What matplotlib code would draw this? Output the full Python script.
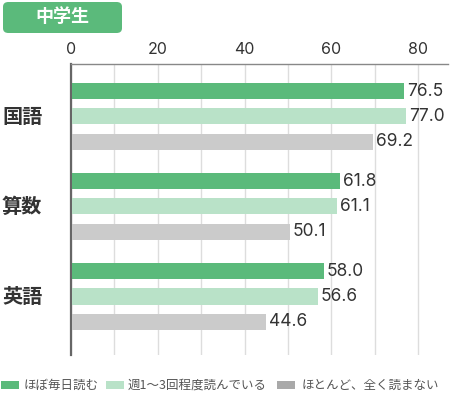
import matplotlib
matplotlib.use("Agg")
import matplotlib.pyplot as plt
from matplotlib.patches import FancyBboxPatch, Rectangle
from matplotlib.transforms import blended_transform_factory
import numpy as np

plt.rcParams['font.family'] = ['Noto Sans CJK JP', 'DejaVu Sans']
num_font = ['Inter', 'DejaVu Sans']

title = "中学生"
subjects = ["国語", "算数", "英語"]
series_names = ["ほぼ毎日読む", "週1〜3回程度読んでいる", "ほとんど、全く読まない"]
daily = [76.5, 61.8, 58.0]
weekly = [77.0, 61.1, 56.6]
rarely = [69.2, 50.1, 44.6]
x_ticks = [0, 20, 40, 60, 80]

bar_colors = ["#5bba7b", "#b9e2c8", "#cbcbcb"]
legend_colors = ["#5bba7b", "#b9e2c8", "#a9a9a9"]
text_color = "#333333"

W, H = 450, 396
fig = plt.figure(figsize=(W / 100, H / 100), dpi=100)
ax = fig.add_axes([71 / W, (H - 355) / H, (448 - 71) / W, (355 - 64) / H])

series = [daily, weekly, rarely]
offsets = [-0.283, 0.0, 0.283]
centers = np.arange(len(subjects))
for vals, off, col in zip(series, offsets, bar_colors):
    ypos = centers + off
    ax.barh(ypos, vals, height=0.178, color=col, zorder=3, left=0.3)
    for y, v in zip(ypos, vals):
        ax.text(v + 0.3 + 0.7, y, f"{v:.1f}", va="center", ha="left",
                fontsize=12.5, color=text_color, zorder=4, family=num_font)

ax.set_xlim(0, 86.9)
ax.set_ylim(2.65, -0.583)
ax.set_xticks(x_ticks)
ax.set_xticks(np.arange(10, 90, 10), minor=True)
ax.xaxis.tick_top()
ax.tick_params(axis="x", which="both", length=0, pad=5, labelsize=11.5, labelcolor=text_color)
for lbl in ax.get_xticklabels():
    lbl.set_family(num_font)
ax.grid(axis="x", which="both", color="#dddddd", linewidth=1, zorder=0)
ax.set_yticks([])
for s in ["right", "bottom"]:
    ax.spines[s].set_visible(False)
ax.spines["left"].set_color("#666666")
ax.spines["left"].set_linewidth(1.6)
ax.spines["top"].set_color("#888888")
ax.spines["top"].set_linewidth(1.0)

# category labels
cat_tr = blended_transform_factory(fig.transFigure, ax.transData)
for c, name in zip(centers, subjects):
    ax.text(2 / W, c, name, transform=cat_tr, ha="left", va="center",
            fontsize=14.5, fontweight="bold", color=text_color)

# title badge
badge = FancyBboxPatch((3 / W, (H - 33) / H), 119 / W, 31 / H,
                       boxstyle="round,pad=0,rounding_size=0.012",
                       transform=fig.transFigure, facecolor="#5bba7b", edgecolor="none")
fig.add_artist(badge)
fig.text(62 / W, (H - 17) / H, title, ha="center", va="center", color="white",
         fontsize=13, fontweight="bold")

# legend
leg_y = 385
swatch_x = [1, 106, 277]
text_x = [24, 128, 302]
for sx, tx, col, name in zip(swatch_x, text_x, legend_colors, series_names):
    fig.add_artist(Rectangle((sx / W, (H - leg_y - 4) / H), 18 / W, 8 / H,
                             transform=fig.transFigure, facecolor=col, edgecolor="none"))
    fig.text(tx / W, (H - leg_y) / H, name, ha="left", va="center", fontsize=9, color="#555555")

fig.savefig("out.png", dpi=100)
